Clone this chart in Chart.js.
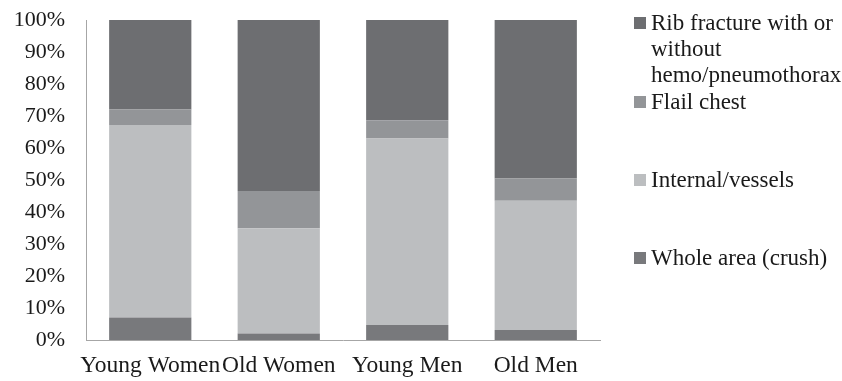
<!DOCTYPE html>
<html>
<head>
<meta charset="utf-8">
<script src="https://cdn.jsdelivr.net/npm/chart.js@4/dist/chart.umd.min.js"></script>
<style>
  html, body { margin: 0; padding: 0; background: #fff; }
  #wrap { position: relative; width: 842px; height: 381px; }
  #chart { position: absolute; left: 0; top: 0; }
  .legend-item {
    position: absolute; left: 634px;
    font-family: 'Liberation Serif', 'Times New Roman', serif;
    font-size: 23px; line-height: 26px; color: #1a1a1a; white-space: nowrap;
  }
  .legend-item .sw { position: absolute; left: 0; top: 7px; width: 12px; height: 12px; }
  .legend-item .tx { position: absolute; left: 17px; top: 0; }
</style>
</head>
<body>
<div id="wrap">
  <canvas id="chart" width="842" height="381"></canvas>
</div>
<script>
// Share of chest injury types by group (percent of each group)
const groups = ['Young Women', 'Old Women', 'Young Men', 'Old Men'];
const wholeArea = [7.0, 2.0, 4.7, 3.1];
const internalVessels = [60.2, 32.9, 58.3, 40.4];
const flailChest = [4.8, 11.7, 5.7, 7.0];
const ribFracture = [28.0, 53.4, 31.3, 49.5];
const yTicks = [0, 10, 20, 30, 40, 50, 60, 70, 80, 90, 100];

const seriesNames = {
  whole: ['Whole area (crush)'],
  internal: ['Internal/vessels'],
  flail: ['Flail chest'],
  rib: ['Rib fracture with or', 'without', 'hemo/pneumothorax']
};
const seriesColors = { whole: '#78797c', internal: '#bcbec0', flail: '#939598', rib: '#6d6e71' };

const FONT = "'Liberation Serif', 'Times New Roman', serif";

const datasets = [
  { key: 'whole', data: wholeArea },
  { key: 'internal', data: internalVessels },
  { key: 'flail', data: flailChest },
  { key: 'rib', data: ribFracture }
].map(d => ({
  label: seriesNames[d.key].join(' '),
  data: d.data,
  backgroundColor: seriesColors[d.key],
  borderWidth: 0,
  categoryPercentage: 1,
  barPercentage: 0.64
}));

const chart = new Chart(document.getElementById('chart'), {
  type: 'bar',
  data: { labels: groups, datasets },
  options: {
    responsive: false,
    animation: false,
    layout: { padding: { left: 0, right: 242, top: 20, bottom: 0 } },
    plugins: { legend: { display: false }, tooltip: { enabled: false } },
    scales: {
      x: {
        stacked: true,
        grid: { display: false, drawTicks: false },
        border: { display: true, color: '#a6a6a6', width: 1 },
        ticks: { color: '#1a1a1a', font: { family: FONT, size: 23.5 }, padding: 12, maxRotation: 0, autoSkip: false },
        afterFit: s => { s.height = 41; }
      },
      y: {
        stacked: true,
        min: 0, max: 100,
        afterBuildTicks: s => { s.ticks = yTicks.map(v => ({ value: v })); },
        grid: { display: false, drawTicks: false },
        border: { display: true, color: '#a6a6a6', width: 1 },
        ticks: { color: '#1a1a1a', font: { family: FONT, size: 22 }, padding: 21, callback: v => v + '%' },
        afterFit: s => { s.width = 86; s.paddingTop = 0; s.paddingBottom = 0; }
      }
    }
  }
});

// Legend built from the datasets, top series first
const legendTops = { rib: 10, flail: 89, internal: 167, whole: 245 };
const wrap = document.getElementById('wrap');
['rib', 'flail', 'internal', 'whole'].forEach(key => {
  const item = document.createElement('div');
  item.className = 'legend-item';
  item.style.top = legendTops[key] + 'px';
  const sw = document.createElement('span');
  sw.className = 'sw';
  sw.style.background = seriesColors[key];
  const tx = document.createElement('span');
  tx.className = 'tx';
  tx.innerHTML = seriesNames[key].join('<br>');
  item.appendChild(sw);
  item.appendChild(tx);
  wrap.appendChild(item);
});
</script>
</body>
</html>
